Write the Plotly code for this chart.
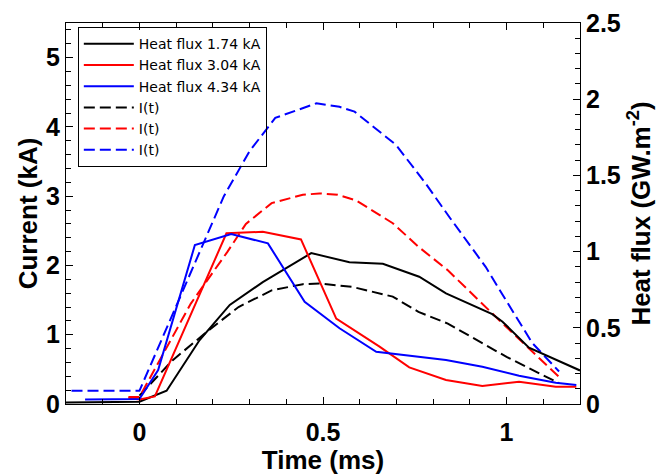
import plotly.graph_objects as go

# heat flux (GW.m-2), right axis
t_hf_174 = [-0.2, 0, 0.074, 0.164, 0.246, 0.336, 0.468, 0.572, 0.663, 0.762, 0.835, 0.961, 0.989, 1.061, 1.2]
hf_174 = [0.01, 0.015, 0.087, 0.42, 0.65, 0.80, 0.99, 0.93, 0.92, 0.835, 0.726, 0.59, 0.54, 0.37, 0.22]

t_hf_304 = [-0.03, 0, 0.042, 0.237, 0.336, 0.44, 0.536, 0.654, 0.735, 0.835, 0.934, 1.034, 1.134, 1.19]
hf_304 = [0.04, 0.03, 0.05, 1.12, 1.13, 1.08, 0.56, 0.376, 0.24, 0.157, 0.118, 0.146, 0.114, 0.114]

t_hf_434 = [-0.148, 0, 0.051, 0.151, 0.25, 0.35, 0.45, 0.545, 0.645, 0.835, 0.934, 1.034, 1.134, 1.19]
hf_434 = [0.03, 0.033, 0.223, 1.043, 1.115, 1.054, 0.67, 0.497, 0.343, 0.289, 0.245, 0.186, 0.14, 0.125]

# current I(t) (kA), left axis
t_i_174 = [0, 0.09, 0.19, 0.27, 0.36, 0.445, 0.49, 0.58, 0.69, 0.76, 0.84, 1.0, 1.143]
i_174 = [0.12, 0.63, 1.07, 1.40, 1.64, 1.73, 1.74, 1.69, 1.55, 1.33, 1.16, 0.68, 0.30]

t_i_304 = [-0.03, 0, 0.14, 0.24, 0.29, 0.36, 0.445, 0.49, 0.54, 0.59, 0.69, 0.76, 0.84, 0.98, 1.143]
i_304 = [0.1, 0.1, 1.45, 2.2, 2.6, 2.9, 3.02, 3.04, 3.02, 2.94, 2.61, 2.27, 1.93, 1.21, 0.39]

t_i_434 = [-0.185, 0, 0.23, 0.30, 0.37, 0.482, 0.545, 0.586, 0.699, 0.78, 0.844, 0.943, 0.998, 1.07, 1.143]
i_434 = [0.19, 0.19, 3.0, 3.65, 4.13, 4.34, 4.29, 4.22, 3.74, 3.18, 2.70, 1.98, 1.50, 0.88, 0.47]

hf_names = ["Heat flux 1.74 kA", "Heat flux 3.04 kA", "Heat flux 4.34 kA"]
colors = ["#000000", "#ff0000", "#0000ff"]

fig = go.Figure()

for name, t, v, c in zip(hf_names, [t_hf_174, t_hf_304, t_hf_434], [hf_174, hf_304, hf_434], colors):
    fig.add_trace(go.Scatter(x=t, y=v, name=name, mode="lines", yaxis="y2",
                             line=dict(color=c, width=2)))

for t, v, c in zip([t_i_174, t_i_304, t_i_434], [i_174, i_304, i_434], colors):
    fig.add_trace(go.Scatter(x=t, y=v, name="I(t)", mode="lines", yaxis="y",
                             line=dict(color=c, width=2, dash="11px,5px")))

tick_font = dict(family="Liberation Sans", size=25, color="black", weight="bold")
title_font = dict(family="Liberation Sans", size=26, color="black", weight="bold")
axis_common = dict(showgrid=False, zeroline=False, showline=True, linecolor="black", linewidth=1,
                   ticks="inside", ticklen=7, tickcolor="black", tickfont=tick_font,
                   automargin=False)

# the page body adds an 8px margin, so the figure is a bit smaller than the window
fig.update_layout(
    width=662, height=467,
    margin=dict(l=58, r=90, t=15, b=71),
    plot_bgcolor="white", paper_bgcolor="white",
    xaxis=dict(range=[-0.2, 1.2], tickvals=[0, 0.5, 1], mirror="ticks", ticklabelstandoff=6,
               minor=dict(dtick=0.1, ticks="inside", ticklen=5, tickcolor="black"),
               title=dict(text="Time (ms)", font=title_font, standoff=4), **axis_common),
    yaxis=dict(range=[0, 5.5], dtick=1,
               minor=dict(dtick=0.2, ticks="inside", ticklen=5, tickcolor="black"),
               title=dict(text="Current (kA)", font=title_font, standoff=0), **axis_common),
    yaxis2=dict(range=[0, 2.5], dtick=0.5, overlaying="y", side="right",
                minor=dict(dtick=0.1, ticks="inside", ticklen=5, tickcolor="black"),
                title=dict(text="Heat flux (GW.m<sup>-2</sup>)", font=title_font, standoff=11),
                **axis_common),
    legend=dict(x=0.023, y=0.989, xanchor="left", yanchor="top", itemwidth=50,
                bgcolor="rgba(0,0,0,0)", bordercolor="black", borderwidth=1,
                font=dict(family="DejaVu Sans", size=14, color="black")),
)

fig.write_html("out.html")
